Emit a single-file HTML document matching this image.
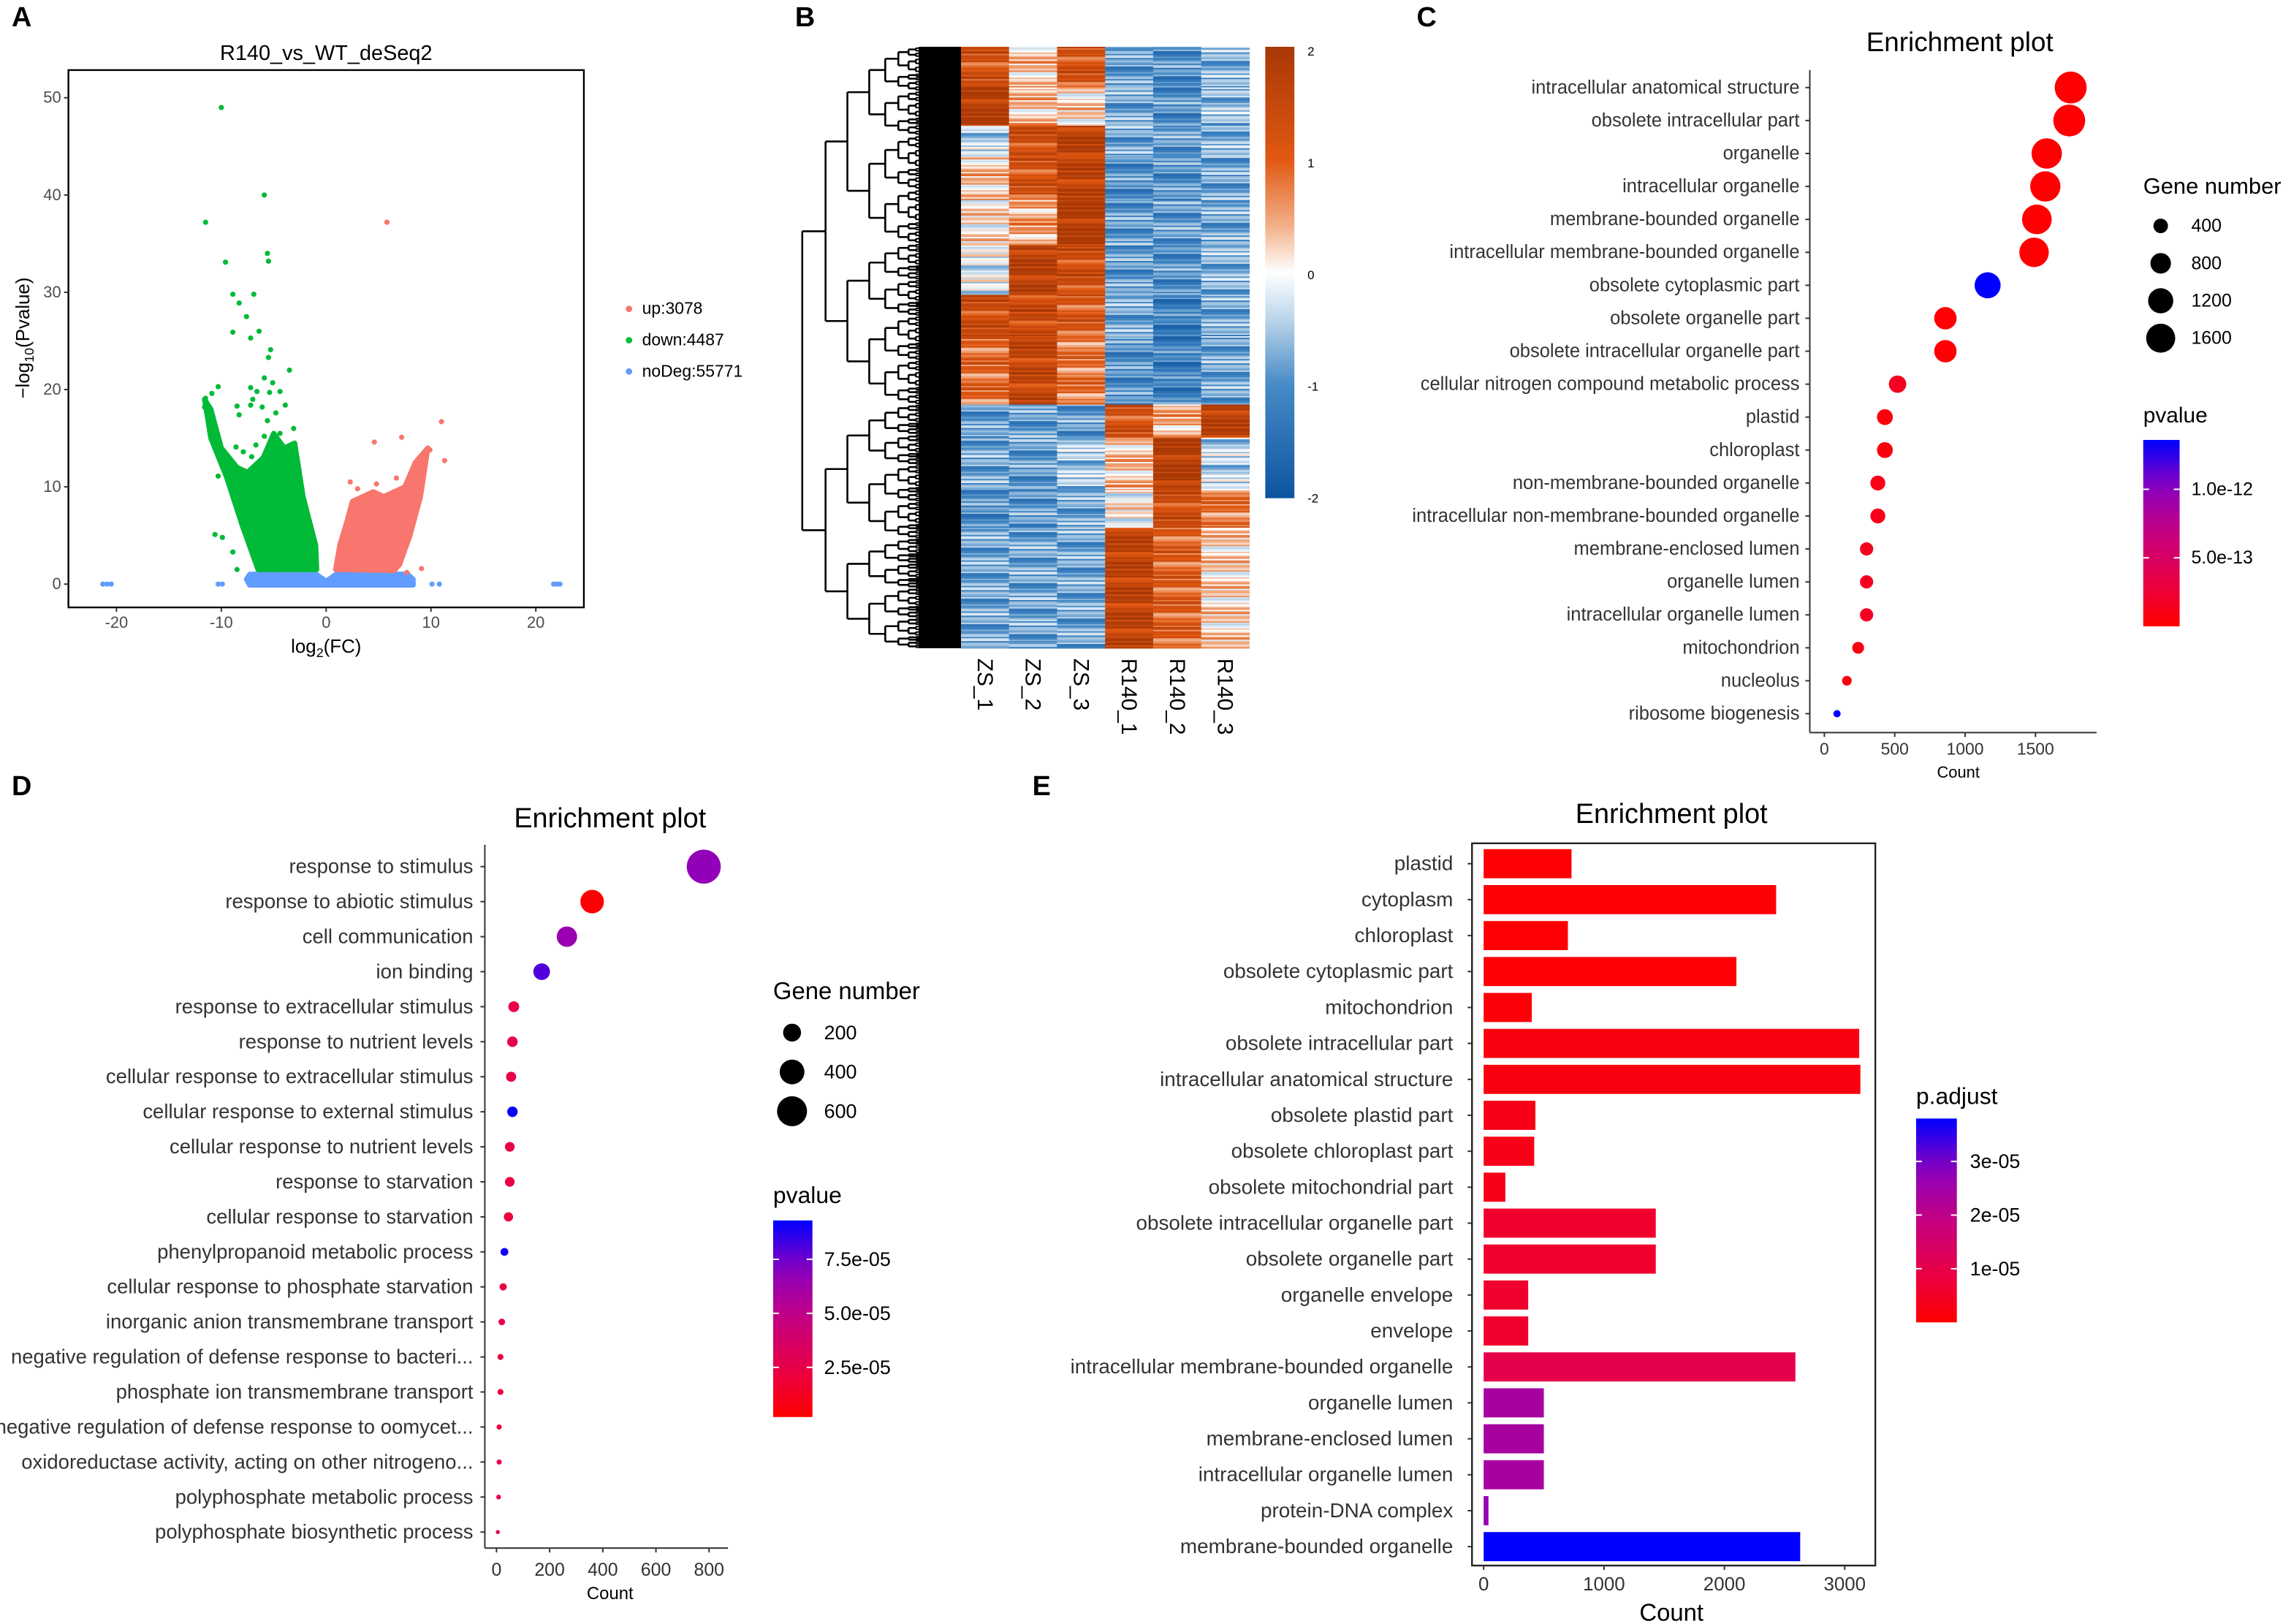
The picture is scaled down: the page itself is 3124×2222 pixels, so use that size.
<!DOCTYPE html>
<html><head><meta charset="utf-8">
<style>
html,body{margin:0;padding:0;background:#fff;}
svg{display:block;}
text{font-family:"Liberation Sans",sans-serif;}
</style></head>
<body>
<svg id="fig" xmlns="http://www.w3.org/2000/svg" width="3124" height="2222" viewBox="0 0 1568 1115">
<rect x="0" y="0" width="1568" height="1115" fill="#fff"/>
<g id="root"></g>
</svg>
<script>
// ---------------- DATA ----------------
// Panel A volcano
const volcTicksX = [-20,-10,0,10,20];
const volcTicksY = [0,10,20,30,40,50];
const greenPts = [[-10,49],[-5.9,40],[-11.5,37.2],[-9.6,33.1],[-5.6,34],[-5.5,33.2],[-8.9,29.8],[-6.9,29.8],[-8.3,28.9],[-7.6,27.5],[-8.9,25.9],[-6.4,26],[-7.2,25.3],[-5.3,24.1],[-5.5,23.3],[-3.5,22],[-5.9,21.2],[-5.1,20.7],[-10.3,20.3],[-7.2,20.2],[-6.6,19.8],[-4.4,19.8],[-10.9,19.6],[-11.5,19.1],[-7,19],[-5.4,19.7],[-8.5,18.3],[-7.2,18.4],[-3.9,18.4],[-6.1,18.2],[-8.3,17.4],[-4.8,17.6],[-11,16.8],[-5.6,16.8],[-3.1,16],[-10.6,5.1],[-9.9,4.8],[-8.9,3.3],[-8.5,1.5],[-8.6,14.1],[-10.3,11.1],[-10.5,13.7],[-5.9,15.2],[-5.2,14.8],[-4.4,15.5],[-6.7,14.3],[-7.9,13.6],[-3.6,13.2],[-4.7,12.8],[-9.5,12.4],[-7.1,13.1],[-3.3,11.5],[-11.2,17.5],[-11.6,18.2]];
const redPts = [[5.8,37.2],[11,16.7],[7.2,15.1],[4.6,14.6],[11.3,12.7],[2.3,10.5],[6.7,10.9],[9.1,1.6],[7.7,1.2],[9.9,13.8],[3,9.8],[4.8,10.3],[3.6,8.2],[5.2,8.6],[6.2,9.1],[7.3,8.8],[8.1,9.6],[2.9,7.6],[4.1,9.2],[9.3,12.8],[6.9,7.2],[7.6,6.3]];
const bluePts = [[-21.3,0],[-20.9,0],[-20.5,0],[-10.3,0],[-9.9,0],[10.1,0],[10.8,0],[21.7,0],[22,0],[22.3,0]];
const greenCloud = [[-11.6,19],[-11,15],[-9.5,11],[-8,6],[-6.5,1.5],[-0.9,1.5],[-1,4],[-2.2,9],[-3,14.5],[-4,14],[-5,15.5],[-6,13],[-7.5,11.5],[-8.5,12],[-10,14],[-11,18]];
const redCloud = [[0.9,1.5],[1.3,4],[2,6.5],[2.5,8.5],[3.5,9],[4.5,9.5],[5.5,9],[6.5,9.5],[7.5,10],[8.5,12.5],[9.7,14],[9,9],[8,5],[7,2],[6.5,1.4]];
const blueCloud = [[-7.3,1.0],[-1.2,1.2],[0,0.3],[1.2,1.2],[7.8,1.0],[8.3,0.5],[8.3,-0.1],[-7.3,-0.1],[-7.6,0.5]];
const volcLegend = ["up:3078","down:4487","noDeg:55771"];

// Panel B heatmap
const hmSamples = ["ZS_1","ZS_2","ZS_3","R140_1","R140_2","R140_3"];
const hmBlockSizes = [103,97,78,110,115,125,105,173,84,133,95,305];
const hmBlockValues = [
 [1.2,0.3,1.2,-0.9,-1.0,-0.7],
 [1.8,0.3,0.2,-0.8,-1.0,-0.6],
 [-0.4,1.3,1.7,-0.8,-0.9,-0.7],
 [0.3,1.2,1.6,-1.0,-1.0,-0.8],
 [0.1,0.5,1.8,-0.9,-0.9,-0.8],
 [-0.2,1.7,1.3,-0.9,-1.0,-0.7],
 [1.3,1.4,1.1,-0.8,-1.2,-0.8],
 [0.9,1.5,0.8,-1.0,-1.2,-0.8],
 [-0.9,-0.9,-0.9,1.2,0.4,1.7],
 [-0.8,-0.9,-0.5,0.3,1.8,-0.4],
 [-1.0,-0.9,-0.8,0.0,1.3,0.8],
 [-0.8,-0.8,-0.8,1.6,1.0,0.2]];
const hmStripe = [0.3,-0.4,0.1,0.5,-0.2,-0.5,0.2,0.4,-0.3,0.0,0.6,-0.1,-0.6,0.3,-0.2,0.1,0.4,-0.4];
const hmTicks = [2,1,0,-1,-2];

// Panel C
const cCats = ["intracellular anatomical structure","obsolete intracellular part","organelle","intracellular organelle","membrane-bounded organelle","intracellular membrane-bounded organelle","obsolete cytoplasmic part","obsolete organelle part","obsolete intracellular organelle part","cellular nitrogen compound metabolic process","plastid","chloroplast","non-membrane-bounded organelle","intracellular non-membrane-bounded organelle","membrane-enclosed lumen","organelle lumen","intracellular organelle lumen","mitochondrion","nucleolus","ribosome biogenesis"];
const cCounts = [1750,1740,1580,1570,1510,1490,1160,860,860,520,430,430,380,380,300,300,300,240,160,90];
const cPval = [0.1,0.1,0.1,0.1,0.1,0.1,13.6,0.2,0.2,1.5,0.5,0.5,1.0,1.2,1.5,1.5,1.5,0.8,0.8,13.6]; // x1e-13
const cTicks = [0,500,1000,1500];
const cSizeLegend = [400,800,1200,1600];
const cColorTicks = ["1.0e-12","5.0e-13"];
const cColorTickVals = [10,5];

// Panel D
const dCats = ["response to stimulus","response to abiotic stimulus","cell communication","ion binding","response to extracellular stimulus","response to nutrient levels","cellular response to extracellular stimulus","cellular response to external stimulus","cellular response to nutrient levels","response to starvation","cellular response to starvation","phenylpropanoid metabolic process","cellular response to phosphate starvation","inorganic anion transmembrane transport","negative regulation of defense response to bacteri...","phosphate ion transmembrane transport","negative regulation of defense response to oomycet...","oxidoreductase activity, acting on other nitrogeno...","polyphosphate metabolic process","polyphosphate biosynthetic process"];
const dCounts = [780,360,265,170,65,60,55,60,50,50,45,30,25,20,15,15,10,10,8,5];
const dPval = [6.8,0.3,6.5,8.0,2.5,2.5,2.5,9.2,2.5,2.3,2.3,9.0,2.2,2.5,2.2,2.2,2.2,2.5,2.3,2.3]; // x1e-5
const dTicks = [0,200,400,600,800];
const dSizeLegend = [200,400,600];
const dColorTicks = ["7.5e-05","5.0e-05","2.5e-05"];
const dColorTickVals = [7.5,5,2.5];

// Panel E
const eCats = ["plastid","cytoplasm","chloroplast","obsolete cytoplasmic part","mitochondrion","obsolete intracellular part","intracellular anatomical structure","obsolete plastid part","obsolete chloroplast part","obsolete mitochondrial part","obsolete intracellular organelle part","obsolete organelle part","organelle envelope","envelope","intracellular membrane-bounded organelle","organelle lumen","membrane-enclosed lumen","intracellular organelle lumen","protein-DNA complex","membrane-bounded organelle"];
const eCounts = [730,2430,700,2100,400,3120,3130,430,420,180,1430,1430,370,370,2590,500,500,500,40,2630];
const ePadj = [0.05,0.05,0.05,0.05,0.1,0.2,0.2,0.3,0.3,0.3,0.6,0.6,0.6,0.6,1.0,2.4,2.4,2.4,2.7,3.8]; // x1e-5
const eTicks = [0,1000,2000,3000];
const eColorTicks = ["3e-05","2e-05","1e-05"];
const eColorTickVals = [3,2,1];

// ---------------- HELPERS ----------------
const NS="http://www.w3.org/2000/svg";
const root=document.getElementById('root');
function el(tag,attrs,parent,txt){const e=document.createElementNS(NS,tag);for(const k in attrs)e.setAttribute(k,attrs[k]);if(txt!==undefined)e.textContent=txt;(parent||root).appendChild(e);return e;}
function grp(name){const g=el('g',{});return g;}
function lerp(a,b,t){return a+(b-a)*t;}
function hex(c){return '#'+c.map(v=>Math.round(Math.max(0,Math.min(255,v))).toString(16).padStart(2,'0')).join('');}
const rbStops=[[255,0,0],[232,0,72],[196,0,128],[140,0,190],[0,0,255]];
function redBlue(t){t=Math.max(0,Math.min(1,t));const s=t*4,i=Math.min(3,Math.floor(s)),f=s-i;return hex([0,1,2].map(k=>lerp(rbStops[i][k],rbStops[i+1][k],f)));}
function hmColor(v){v=Math.max(-2,Math.min(2,v));
 const st=[[-2,[13,84,160]],[-1,[70,138,198]],[-0.4,[190,214,234]],[0,[255,255,255]],[0.4,[242,178,140]],[1,[226,88,18]],[2,[168,56,6]]];
 for(let i=0;i<st.length-1;i++){if(v<=st[i+1][0]){const f=(v-st[i][0])/(st[i+1][0]-st[i][0]);return hex([0,1,2].map(k=>lerp(st[i][1][k],st[i+1][1][k],f)));}}
 return hex(st[st.length-1][1]);}
function panelLetter(t,x,y){const e=el('text',{x:x,y:y,'font-size':19,'font-weight':'bold',fill:'#000'},root,t);}

panelLetter('A',8,18);panelLetter('B',546,18);panelLetter('C',973,18);panelLetter('D',8,546);panelLetter('E',709,546);

// ---------------- PANEL A ----------------
(function(){
 const g=grp('volcano-plot');
 const X0=224,SX=7.2,Y0=401,SY=6.68;
 const xs=v=>X0+v*SX, ys=v=>Y0-v*SY;
 const t=el('text',{x:224,y:41,'font-size':14.5,'text-anchor':'middle',fill:'#000'},g,'R140_vs_WT_deSeq2');
 
 const frame=el('rect',{x:47,y:48,width:354,height:369,fill:'none',stroke:'#000','stroke-width':1.2},g);
 
 volcTicksX.forEach(v=>{el('line',{x1:xs(v),x2:xs(v),y1:417,y2:420,stroke:'#333'},g);
  const tt=el('text',{x:xs(v),y:431,'font-size':11,'text-anchor':'middle',fill:'#4d4d4d'},g,String(v));});
 volcTicksY.forEach(v=>{el('line',{x1:44,x2:47,y1:ys(v),y2:ys(v),stroke:'#333'},g);
  const tt=el('text',{x:42,y:ys(v)+3.5,'font-size':11,'text-anchor':'end',fill:'#4d4d4d'},g,String(v));});
 const xl=el('text',{x:224,y:448,'font-size':13,'text-anchor':'middle',fill:'#000'},g);
 xl.innerHTML='log<tspan font-size="9" dy="3">2</tspan><tspan dy="-3">(FC)</tspan>';
 
 const yl=el('text',{x:0,y:0,'font-size':13,'text-anchor':'middle',fill:'#000',transform:'translate(20,232) rotate(-90)'},g);
 yl.innerHTML='−log<tspan font-size="9" dy="3">10</tspan><tspan dy="-3">(Pvalue)</tspan>';
 
 function cloud(pts,col,name){const p=el('polygon',{points:pts.map(q=>xs(q[0])+','+ys(q[1])).join(' '),fill:col,stroke:col,'stroke-width':3.5,'stroke-linejoin':'round'},g);}
 cloud(blueCloud,'#619CFF','nodeg-dense-cloud');
 el('line',{x1:xs(-7.3),x2:xs(8.3),y1:ys(0),y2:ys(0),stroke:'#619CFF','stroke-width':3.6,'stroke-linecap':'round'},g);
 cloud(greenCloud,'#00BA38','down-dense-cloud');
 cloud(redCloud,'#F8766D','up-dense-cloud');
 function pts(arr,col,name){arr.forEach(q=>{const c=el('circle',{cx:xs(q[0]),cy:ys(q[1]),r:1.8,fill:col},g);});}
 pts(bluePts,'#619CFF','nodeg-point');pts(greenPts,'#00BA38','down-point');pts(redPts,'#F8766D','up-point');
 const cols=['#F8766D','#00BA38','#619CFF'];
 volcLegend.forEach((s,i)=>{const y=212+i*21.5;
  const c=el('circle',{cx:432,cy:y,r:2.2,fill:cols[i]},g);
  const tt=el('text',{x:441,y:y+3.5,'font-size':11.5,fill:'#000'},g,s);});
})();

// ---------------- PANEL B ----------------
(function(){
 const g=grp('heatmap');
 const HX=660,HY=32,HW=198,HH=413,CW=HW/6;
 const total=hmBlockSizes.reduce((a,b)=>a+b,0);
 let acc=0;const rowsPerUnit=0.28;
 hmBlockSizes.forEach((sz,bi)=>{
  const y0=HY+acc/total*HH,h=sz/total*HH;acc+=sz;
  const nr=Math.max(1,Math.round(sz*rowsPerUnit));
  for(let r=0;r<nr;r++){
   const ry=y0+r*h/nr;
   for(let c=0;c<6;c++){
    const v=hmBlockValues[bi][c]+hmStripe[(r*7+c*5+bi*3)%hmStripe.length];
    const rc=el('rect',{x:HX+c*CW,y:ry,width:CW+0.3,height:h/nr+0.3,fill:hmColor(v)},g);
    
   }
  }
 });
 const dg=grp('row-dendrogram');
 const heights=[551,567,582,597,608,617,624,629];
 function tree(y0,y1,depth){const mid=(y0+y1)/2;
  if(depth>=heights.length){el('line',{x1:heights[heights.length-1],x2:660,y1:mid,y2:mid,stroke:'#000','stroke-width':1},dg);return mid;}
  const x=heights[depth];const w=[0.5,0.55,0.45,0.5,0.6,0.4,0.5,0.5][depth];
  const sp=y0+(y1-y0)*w;
  const a=tree(y0,sp,depth+1),b=tree(sp,y1,depth+1);
  const cx=heights[Math.min(depth+1,heights.length-1)];
  el('line',{x1:x,x2:x,y1:a,y2:b,stroke:'#000','stroke-width':1.3},dg);
  el('line',{x1:x,x2:cx,y1:a,y2:a,stroke:'#000','stroke-width':1.3},dg);
  el('line',{x1:x,x2:cx,y1:b,y2:b,stroke:'#000','stroke-width':1.3},dg);
  return (a+b)/2;}
 const topEnd=HY+hmBlockSizes.slice(0,8).reduce((a,b)=>a+b,0)/total*HH;
 const a=tree(HY,topEnd,1),b=tree(topEnd,HY+HH,1);
 el('line',{x1:551,x2:551,y1:a,y2:b,stroke:'#000','stroke-width':1.3},dg);
 el('line',{x1:551,x2:567,y1:a,y2:a,stroke:'#000','stroke-width':1.3},dg);
 el('line',{x1:551,x2:567,y1:b,y2:b,stroke:'#000','stroke-width':1.3},dg);
 el('rect',{x:631,y:HY,width:29,height:HH,fill:'#000'},dg);
 hmSamples.forEach((s,i)=>{const x=HX+(i+0.5)*CW;
  const t=el('text',{x:0,y:0,'font-size':15,fill:'#000','font-family':'Liberation Mono, monospace',transform:`translate(${x-5},452) rotate(90)`},g,s);
  });
 const cb=grp('heatmap-colorbar');
 const defs=el('defs',{},cb);const lg=el('linearGradient',{id:'hmgrad',x1:0,y1:0,x2:0,y2:1},defs);
 for(let i=0;i<=20;i++){const v=2-i*0.2;el('stop',{offset:(i/20),'stop-color':hmColor(v)},lg);}
 el('rect',{x:869,y:32,width:20,height:310,fill:'url(#hmgrad)'},cb);
 hmTicks.forEach(v=>{const y=32+(2-v)/4*307+3;
  const t=el('text',{x:898,y:y+3,'font-size':8.5,fill:'#000','font-family':'Liberation Mono, monospace'},cb,String(v));});
})();

// ---------------- PANEL C ----------------
(function(){
 const g=grp('enrichment-dotplot-c');
 const X0=1253,SX=(1398-1253)/1500,Y0=60,STEP=(490-60)/19;
 const xs=v=>X0+v*SX,ys=i=>Y0+i*STEP, rs=n=>0.2625*Math.sqrt(n);
 const cmin=0,cmax=13.6;
 const t=el('text',{x:1346,y:35,'font-size':18.5,'text-anchor':'middle',fill:'#000'},g,'Enrichment plot');
 el('line',{x1:1243,x2:1243,y1:48,y2:503,stroke:'#333','stroke-width':1},g);
 el('line',{x1:1243,x2:1440,y1:503,y2:503,stroke:'#333','stroke-width':1},g);
 cCats.forEach((c,i)=>{el('line',{x1:1240,x2:1243,y1:ys(i),y2:ys(i),stroke:'#333'},g);
  const tt=el('text',{x:1236,y:ys(i)+4,'font-size':12.8,'text-anchor':'end',fill:'#333'},g,c);
  const d=el('circle',{cx:xs(cCounts[i]),cy:ys(i),r:rs(cCounts[i]),fill:redBlue((cPval[i]-cmin)/(cmax-cmin))},g);});
 cTicks.forEach(v=>{el('line',{x1:xs(v),x2:xs(v),y1:503,y2:506,stroke:'#333'},g);
  const tt=el('text',{x:xs(v),y:518,'font-size':11.5,'text-anchor':'middle',fill:'#333'},g,String(v));});
 const xl=el('text',{x:1345,y:534,'font-size':11,'text-anchor':'middle',fill:'#000'},g,'Count');
 const lt=el('text',{x:1472,y:133,'font-size':15.5,fill:'#000'},g,'Gene number');
 cSizeLegend.forEach((n,i)=>{const y=155+i*25.7;
  const c=el('circle',{cx:1484,cy:y,r:rs(n)*0.95,fill:'#000'},g);
  const tt=el('text',{x:1505,y:y+4,'font-size':12.5,fill:'#000'},g,String(n));});
 const pt=el('text',{x:1472,y:290,'font-size':15,fill:'#000'},g,'pvalue');
 const defs=el('defs',{},g);const lg=el('linearGradient',{id:'cgrad',x1:0,y1:1,x2:0,y2:0},defs);
 for(let i=0;i<=10;i++)el('stop',{offset:i/10,'stop-color':redBlue(i/10)},lg);
 el('rect',{x:1472,y:302,width:25,height:128,fill:'url(#cgrad)'},g);
 cColorTicks.forEach((s,i)=>{const y=430-(cColorTickVals[i]-cmin)/(cmax-cmin)*128;
  el('line',{x1:1472,x2:1476,y1:y,y2:y,stroke:'#fff'},g);el('line',{x1:1493,x2:1497,y1:y,y2:y,stroke:'#fff'},g);
  const tt=el('text',{x:1505,y:y+4,'font-size':12.5,fill:'#000'},g,s);});
})();

// ---------------- PANEL D ----------------
(function(){
 const g=grp('enrichment-dotplot-d');
 const X0=341,SX=(487-341)/800,Y0=595,STEP=(1052-595)/19;
 const xs=v=>X0+v*SX,ys=i=>Y0+i*STEP, rs=n=>0.4*Math.sqrt(n)+0.5;
 const cmin=0.2,cmax=9.3;
 const t=el('text',{x:419,y:568,'font-size':19,'text-anchor':'middle',fill:'#000'},g,'Enrichment plot');
 el('line',{x1:333,x2:333,y1:580,y2:1063,stroke:'#333'},g);
 el('line',{x1:333,x2:500,y1:1063,y2:1063,stroke:'#333'},g);
 dCats.forEach((c,i)=>{el('line',{x1:330,x2:333,y1:ys(i),y2:ys(i),stroke:'#333'},g);
  const tt=el('text',{x:325,y:ys(i)+4.5,'font-size':13.8,'text-anchor':'end',fill:'#333'},g,c);
  const d=el('circle',{cx:xs(dCounts[i]),cy:ys(i),r:rs(dCounts[i]),fill:redBlue((dPval[i]-cmin)/(cmax-cmin))},g);});
 dTicks.forEach(v=>{el('line',{x1:xs(v),x2:xs(v),y1:1063,y2:1066,stroke:'#333'},g);
  const tt=el('text',{x:xs(v),y:1082,'font-size':12.5,'text-anchor':'middle',fill:'#333'},g,String(v));});
 const xl=el('text',{x:419,y:1098,'font-size':12,'text-anchor':'middle',fill:'#000'},g,'Count');
 const lt=el('text',{x:531,y:686,'font-size':16.5,fill:'#000'},g,'Gene number');
 dSizeLegend.forEach((n,i)=>{const y=709+i*27;
  const c=el('circle',{cx:544,cy:y,r:rs(n),fill:'#000'},g);
  const tt=el('text',{x:566,y:y+4.5,'font-size':13.5,fill:'#000'},g,String(n));});
 const pt=el('text',{x:531,y:826,'font-size':16,fill:'#000'},g,'pvalue');
 const defs=el('defs',{},g);const lg=el('linearGradient',{id:'dgrad',x1:0,y1:1,x2:0,y2:0},defs);
 for(let i=0;i<=10;i++)el('stop',{offset:i/10,'stop-color':redBlue(i/10)},lg);
 el('rect',{x:531,y:838,width:27,height:135,fill:'url(#dgrad)'},g);
 dColorTicks.forEach((s,i)=>{const y=973-(dColorTickVals[i]-cmin)/(cmax-cmin)*135;
  el('line',{x1:531,x2:535,y1:y,y2:y,stroke:'#fff'},g);el('line',{x1:554,x2:558,y1:y,y2:y,stroke:'#fff'},g);
  const tt=el('text',{x:566,y:y+4.5,'font-size':13.5,fill:'#000'},g,s);});
})();

// ---------------- PANEL E ----------------
(function(){
 const g=grp('enrichment-barplot-e');
 const X0=1019,SX=(1267-1019)/3000,Y0=593,STEP=(1062-593)/19,BH=20;
 const xs=v=>X0+v*SX,ys=i=>Y0+i*STEP;
 const cmin=0,cmax=3.8;
 const t=el('text',{x:1148,y:565,'font-size':19,'text-anchor':'middle',fill:'#000'},g,'Enrichment plot');
 eCats.forEach((c,i)=>{
  const b=el('rect',{x:xs(0),y:ys(i)-BH/2,width:xs(eCounts[i])-xs(0),height:BH,fill:redBlue((ePadj[i]-cmin)/(cmax-cmin))},g);
  el('line',{x1:1008,x2:1011,y1:ys(i),y2:ys(i),stroke:'#333'},g);
  const tt=el('text',{x:998,y:ys(i)+4.5,'font-size':14,'text-anchor':'end',fill:'#333'},g,c);});
 const fr=el('rect',{x:1011,y:579,width:277,height:496,fill:'none',stroke:'#222','stroke-width':1.2},g);
 eTicks.forEach(v=>{el('line',{x1:xs(v),x2:xs(v),y1:1075,y2:1078,stroke:'#333'},g);
  const tt=el('text',{x:xs(v),y:1092,'font-size':13,'text-anchor':'middle',fill:'#333'},g,String(v));});
 const xl=el('text',{x:1148,y:1113,'font-size':16.5,'text-anchor':'middle',fill:'#000'},g,'Count');
 const pt=el('text',{x:1316,y:758,'font-size':16,fill:'#000'},g,'p.adjust');
 const defs=el('defs',{},g);const lg=el('linearGradient',{id:'egrad',x1:0,y1:1,x2:0,y2:0},defs);
 for(let i=0;i<=10;i++)el('stop',{offset:i/10,'stop-color':redBlue(i/10)},lg);
 el('rect',{x:1316,y:768,width:28,height:140,fill:'url(#egrad)'},g);
 eColorTicks.forEach((s,i)=>{const y=908-(eColorTickVals[i]-cmin)/(cmax-cmin)*140;
  el('line',{x1:1316,x2:1320,y1:y,y2:y,stroke:'#fff'},g);el('line',{x1:1340,x2:1344,y1:y,y2:y,stroke:'#fff'},g);
  const tt=el('text',{x:1353,y:y+4.5,'font-size':13.5,fill:'#000'},g,s);});
})();
</script>
</body></html>
